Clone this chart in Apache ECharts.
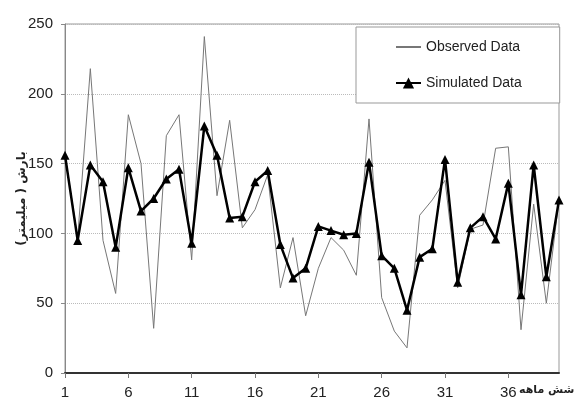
<!DOCTYPE html>
<html>
<head>
<meta charset="utf-8">
<script src="https://cdn.jsdelivr.net/npm/echarts@6/dist/echarts.min.js"></script>
<style>html,body{margin:0;padding:0;background:#fff;}#c{width:574px;height:409px;}</style>
</head>
<body>
<div id="c"></div>
<script>
var categories = [];
for (var i = 1; i <= 40; i++) categories.push(String(i));
var observed = [156, 97, 218, 95, 57, 185, 150, 32, 170, 185,
                81, 241, 127, 181, 104, 117, 142, 61, 97, 41,
                75, 97, 88, 70, 182, 54, 30, 18, 113, 124,
                138, 61, 103, 106, 161, 162, 31, 121, 50, 124];
var simulated = [156, 95, 149, 137, 90, 147, 116, 125, 139, 146,
                 93, 177, 156, 111, 112, 137, 145, 92, 68, 75,
                 105, 102, 99, 100, 151, 84, 75, 45, 83, 89,
                 153, 65, 104, 112, 96, 136, 56, 149, 69, 124];
var yTicks = [0, 50, 100, 150, 200, 250];

var chart = echarts.init(document.getElementById('c'));
chart.setOption({
  animation: false,
  backgroundColor: '#fff',
  grid: { left: 65, right: 15, top: 24, bottom: 36, outerBoundsMode: 'none', containLabel: false,
          show: true, borderColor: '#999', borderWidth: 1, backgroundColor: 'transparent' },
  legend: {
    orient: 'vertical', left: 356, top: 27,
    padding: [13, 38, 13, 39], itemGap: 22, itemWidth: 25, itemHeight: 14,
    backgroundColor: '#fff', borderColor: '#999', borderWidth: 1,
    textStyle: { fontFamily: 'Liberation Sans', fontSize: 14, color: '#222' },
    data: [
      { name: 'Observed Data', itemStyle: { color: 'transparent', borderColor: 'transparent', borderWidth: 0 } },
      { name: 'Simulated Data' }
    ]
  },
  xAxis: {
    type: 'category', data: categories, boundaryGap: false,
    name: 'شش ماهه', nameLocation: 'end', nameGap: -40, nameMoveOverlap: false,
    nameTextStyle: { fontFamily: 'DejaVu Sans', fontSize: 11, fontWeight: 'bold', color: '#222', align: 'left', verticalAlign: 'top', padding: [12, 0, 0, 0] },
    axisLine: { lineStyle: { color: '#333', width: 2 } },
    axisTick: { interval: 4, length: 5, lineStyle: { color: '#777' } },
    axisLabel: { interval: 4, margin: 12, fontFamily: 'Liberation Sans', fontSize: 15, color: '#222' },
    splitLine: { show: false }
  },
  yAxis: {
    type: 'value', min: 0, max: 250, interval: 50,
    name: 'بارش ( میلیمتر)', nameLocation: 'middle', nameGap: 37, nameMoveOverlap: false,
    nameTextStyle: { fontFamily: 'DejaVu Sans', fontSize: 12, fontWeight: 'bold', color: '#222' },
    axisLine: { show: true, lineStyle: { color: '#888', width: 1 } },
    axisTick: { show: true, length: 4, lineStyle: { color: '#888' } },
    axisLabel: { margin: 12, fontFamily: 'Liberation Sans', fontSize: 15, color: '#222',
      formatter: function (v) { return yTicks.indexOf(v) >= 0 ? String(v) : ''; } },
    splitLine: { show: true, lineStyle: { color: '#bbb', type: 'dotted', width: 1 } }
  },
  series: [
    { name: 'Observed Data', type: 'line', data: observed, symbol: 'none', showSymbol: false,
      lineStyle: { color: '#777', width: 1 }, itemStyle: { color: '#777' }, z: 2 },
    { name: 'Simulated Data', type: 'line', data: simulated, symbol: 'triangle', symbolSize: 9,
      showAllSymbol: true,
      lineStyle: { color: '#000', width: 2.5 }, itemStyle: { color: '#000' }, z: 3 }
  ]
});
</script>
</body>
</html>
